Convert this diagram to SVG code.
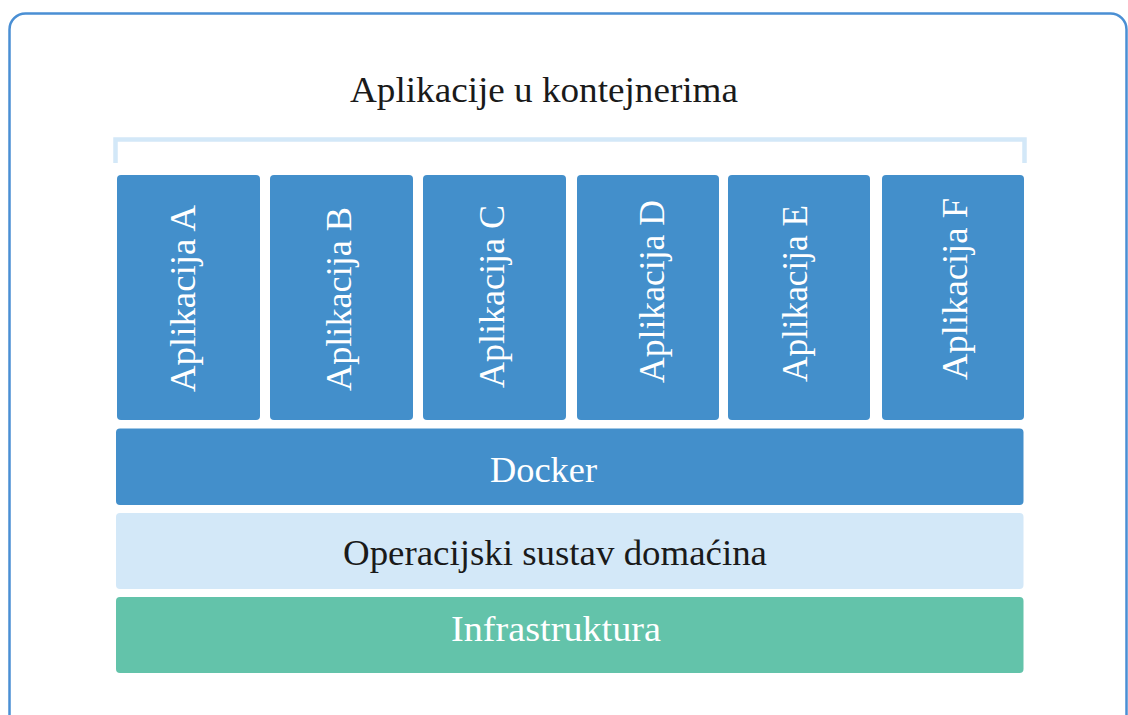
<svg xmlns="http://www.w3.org/2000/svg" width="1128" height="715" viewBox="0 0 1128 715">
<style>
.app{fill:#438fcb}
.t{font-family:"Liberation Serif","DejaVu Serif",serif;font-size:36px}
.w{fill:#ffffff}
.k{fill:#1a1a1a}
</style>
<rect width="1128" height="715" fill="#ffffff"/>
<rect x="9.5" y="13.5" width="1117" height="740" rx="16" fill="none" stroke="#4a8fd4" stroke-width="2.5"/>
<g id="title">
<text class="t k" x="544" y="102" text-anchor="middle" textLength="388" lengthAdjust="spacingAndGlyphs">Aplikacije u kontejnerima</text>
</g>
<g id="connectors">
<path d="M115.5 163 V139.5 H1024.5 V163" fill="none" stroke="#d3e8f8" stroke-width="4.5"/>
</g>
<g id="app-a"><rect class="app" x="117" y="175" width="143" height="245" rx="4"/><text class="t w" transform="translate(195,298.5) rotate(-90)" text-anchor="middle" textLength="187" lengthAdjust="spacingAndGlyphs">Aplikacija A</text></g>
<g id="app-b"><rect class="app" x="270" y="175" width="143" height="245" rx="4"/><text class="t w" transform="translate(351,299) rotate(-90)" text-anchor="middle" textLength="184" lengthAdjust="spacingAndGlyphs">Aplikacija B</text></g>
<g id="app-c"><rect class="app" x="423" y="175" width="143" height="245" rx="4"/><text class="t w" transform="translate(504,296.5) rotate(-90)" text-anchor="middle" textLength="183" lengthAdjust="spacingAndGlyphs">Aplikacija C</text></g>
<g id="app-d"><rect class="app" x="577" y="175" width="142" height="245" rx="4"/><text class="t w" transform="translate(664,291.5) rotate(-90)" text-anchor="middle" textLength="183" lengthAdjust="spacingAndGlyphs">Aplikacija D</text></g>
<g id="app-e"><rect class="app" x="728" y="175" width="142" height="245" rx="4"/><text class="t w" transform="translate(807,293.5) rotate(-90)" text-anchor="middle" textLength="177" lengthAdjust="spacingAndGlyphs">Aplikacija E</text></g>
<g id="app-f"><rect class="app" x="882" y="175" width="142" height="245" rx="4"/><text class="t w" transform="translate(967,289) rotate(-90)" text-anchor="middle" textLength="182" lengthAdjust="spacingAndGlyphs">Aplikacija F</text></g>
<g id="docker"><rect class="app" x="116" y="428.5" width="907.5" height="76.5" rx="4"/><text class="t w" x="543.5" y="481.5" text-anchor="middle" textLength="107" lengthAdjust="spacingAndGlyphs">Docker</text></g>
<g id="os"><rect x="116" y="513" width="907.5" height="76" rx="4" fill="#d3e8f8"/><text class="t k" x="555" y="565" text-anchor="middle" textLength="424" lengthAdjust="spacingAndGlyphs">Operacijski sustav domaćina</text></g>
<g id="infra"><rect x="116" y="597" width="907.5" height="76" rx="4" fill="#63c3aa"/><text class="t w" x="556" y="641" text-anchor="middle" textLength="210" lengthAdjust="spacingAndGlyphs">Infrastruktura</text></g>
</svg>
